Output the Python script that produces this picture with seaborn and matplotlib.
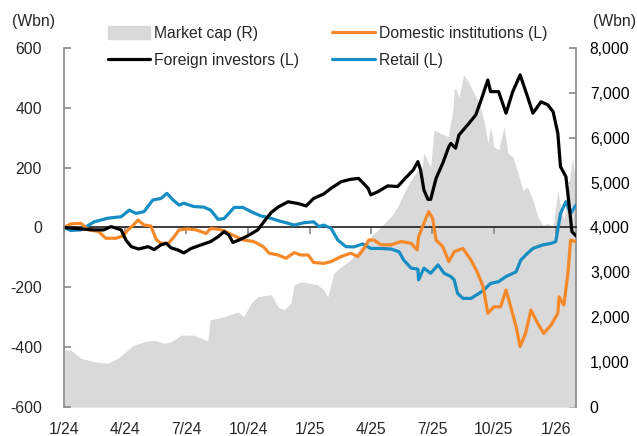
import pandas as pd
import numpy as np
import matplotlib.pyplot as plt
import seaborn as sns
from matplotlib.lines import Line2D
from matplotlib.patches import Patch
from matplotlib.ticker import FuncFormatter

# cumulative net buying (Wbn, left axis)
foreign_dates = ['2024-01-01', '2024-01-26', '2024-02-15', '2024-02-29', '2024-03-11', '2024-03-26', '2024-04-02',
                 '2024-04-10', '2024-04-21', '2024-05-05', '2024-05-14', '2024-05-24', '2024-06-01', '2024-06-08',
                 '2024-06-18', '2024-06-27', '2024-07-08', '2024-07-23', '2024-08-06', '2024-08-17', '2024-08-26',
                 '2024-09-02', '2024-09-08', '2024-09-17', '2024-09-30', '2024-10-15', '2024-10-24', '2024-11-04',
                 '2024-11-14', '2024-11-29', '2024-12-14', '2024-12-26', '2025-01-06', '2025-01-21', '2025-02-01',
                 '2025-02-16', '2025-03-02', '2025-03-14', '2025-03-28', '2025-04-01', '2025-04-12', '2025-04-26',
                 '2025-05-11', '2025-05-20', '2025-06-03', '2025-06-10', '2025-06-14', '2025-06-19', '2025-06-25',
                 '2025-06-29', '2025-07-07', '2025-07-17', '2025-07-26', '2025-07-29', '2025-08-05', '2025-08-10',
                 '2025-08-23', '2025-09-04', '2025-09-12', '2025-09-22', '2025-09-26', '2025-10-08', '2025-10-19',
                 '2025-10-29', '2025-11-09', '2025-11-20', '2025-11-28', '2025-12-10', '2025-12-20', '2025-12-28',
                 '2026-01-04', '2026-01-08', '2026-01-16', '2026-01-20', '2026-01-25', '2026-01-31']
foreign_vals = [0, -5, -8, -8, 3, -8, -42,
                -64, -72, -64, -74, -58, -53, -68,
                -75, -85, -70, -58, -47, -31, -14,
                -25, -50, -42, -28, -8, 19, 50,
                68, 86, 80, 72, 97, 112, 131,
                153, 161, 164, 131, 109, 120, 139,
                137, 159, 192, 220, 192, 125, 94,
                94, 164, 215, 270, 281, 265, 309,
                343, 376, 426, 493, 454, 454, 382,
                454, 510, 437, 382, 420, 410, 387,
                315, 203, 170, 92, -14, -28]

domestic_dates = ['2024-01-01', '2024-01-11', '2024-01-26', '2024-02-06', '2024-02-21', '2024-03-03', '2024-03-18',
                  '2024-03-29', '2024-04-05', '2024-04-13', '2024-04-20', '2024-04-29', '2024-05-09', '2024-05-17',
                  '2024-05-24', '2024-06-04', '2024-06-12', '2024-06-20', '2024-07-03', '2024-07-15', '2024-07-23',
                  '2024-07-30', '2024-08-06', '2024-08-17', '2024-08-26', '2024-09-10', '2024-09-24', '2024-10-09',
                  '2024-10-23', '2024-11-01', '2024-11-14', '2024-11-26', '2024-12-08', '2024-12-18', '2024-12-29',
                  '2025-01-06', '2025-01-21', '2025-02-01', '2025-02-16', '2025-03-02', '2025-03-13', '2025-03-22',
                  '2025-03-29', '2025-04-06', '2025-04-16', '2025-05-01', '2025-05-16', '2025-05-31', '2025-06-09',
                  '2025-06-11', '2025-06-19', '2025-06-26', '2025-07-02', '2025-07-07', '2025-07-17', '2025-07-26',
                  '2025-08-03', '2025-08-16', '2025-08-28', '2025-09-07', '2025-09-15', '2025-09-22', '2025-10-01',
                  '2025-10-11', '2025-10-19', '2025-10-26', '2025-11-03', '2025-11-09', '2025-11-17', '2025-11-25',
                  '2025-12-05', '2025-12-14', '2025-12-25', '2026-01-04', '2026-01-06', '2026-01-13', '2026-01-19',
                  '2026-01-23', '2026-01-31']
domestic_vals = [0, 12, 14, -8, -13, -36, -36,
                 -28, -8, 8, 25, 8, 5, -40,
                 -53, -53, -33, -8, -5, -8, -14,
                 -20, -3, -6, -11, -28, -42, -47,
                 -64, -86, -92, -103, -84, -92, -92,
                 -117, -120, -114, -97, -86, -97, -70,
                 -42, -42, -58, -58, -47, -53, -75,
                 -31, 14, 53, 30, -42, -64, -114,
                 -81, -70, -109, -153, -198, -287, -265,
                 -265, -209, -265, -332, -398, -354, -276,
                 -320, -354, -326, -287, -232, -259, -153,
                 -42, -47]

retail_dates = ['2024-01-01', '2024-01-11', '2024-01-26', '2024-02-15', '2024-03-06', '2024-03-26', '2024-04-07',
                '2024-04-17', '2024-04-29', '2024-05-12', '2024-05-24', '2024-06-02', '2024-06-11', '2024-06-20',
                '2024-06-27', '2024-07-12', '2024-07-27', '2024-08-06', '2024-08-17', '2024-08-26', '2024-09-10',
                '2024-09-23', '2024-10-05', '2024-10-20', '2024-10-30', '2024-11-14', '2024-11-29', '2024-12-08',
                '2024-12-23', '2025-01-06', '2025-01-14', '2025-01-21', '2025-02-01', '2025-02-11', '2025-02-23',
                '2025-03-07', '2025-03-20', '2025-04-01', '2025-04-16', '2025-05-01', '2025-05-13', '2025-05-20',
                '2025-05-31', '2025-06-10', '2025-06-11', '2025-06-19', '2025-06-29', '2025-07-10', '2025-07-19',
                '2025-07-29', '2025-08-03', '2025-08-08', '2025-08-16', '2025-08-28', '2025-09-09', '2025-09-16',
                '2025-09-26', '2025-10-08', '2025-10-19', '2025-11-03', '2025-11-10', '2025-11-20', '2025-11-28',
                '2025-12-13', '2025-12-25', '2026-01-01', '2026-01-08', '2026-01-16', '2026-01-23', '2026-01-31']
retail_vals = [0, -10, -8, 19, 31, 36, 58,
               47, 53, 92, 97, 114, 92, 75,
               81, 70, 68, 58, 27, 30, 67,
               67, 53, 38, 34, 23, 14, 8,
               16, 19, 3, 8, -3, -42, -64,
               -65, -55, -70, -70, -72, -81, -109,
               -136, -139, -175, -136, -153, -125, -153,
               -164, -175, -220, -237, -237, -220, -209,
               -187, -181, -164, -148, -109, -86, -70,
               -58, -53, -47, 47, 86, 47, 75]

# market cap (Wbn, right axis)
mcap_dates = ['2024-01-01', '2024-01-11', '2024-01-26', '2024-02-15', '2024-03-06', '2024-03-21', '2024-04-05',
              '2024-04-14', '2024-04-29', '2024-05-14', '2024-05-29', '2024-06-08', '2024-06-23', '2024-07-12',
              '2024-07-27', '2024-08-02', '2024-08-05', '2024-08-26', '2024-09-16', '2024-09-24', '2024-10-05',
              '2024-10-15', '2024-11-04', '2024-11-14', '2024-11-23', '2024-12-03', '2024-12-08', '2024-12-18',
              '2025-01-02', '2025-01-12', '2025-01-21', '2025-01-27', '2025-02-05', '2025-02-16', '2025-03-02',
              '2025-03-17', '2025-04-01', '2025-04-16', '2025-05-01', '2025-05-11', '2025-05-20', '2025-05-31',
              '2025-06-10', '2025-06-14', '2025-06-19', '2025-06-29', '2025-07-04', '2025-07-14', '2025-07-25',
              '2025-08-01', '2025-08-03', '2025-08-05', '2025-08-10', '2025-08-17', '2025-08-25', '2025-09-01',
              '2025-09-09', '2025-09-16', '2025-09-22', '2025-09-26', '2025-10-01', '2025-10-08', '2025-10-16',
              '2025-10-22', '2025-10-29', '2025-11-06', '2025-11-13', '2025-11-20', '2025-11-28', '2025-12-05',
              '2025-12-13', '2025-12-20', '2025-12-28', '2026-01-04', '2026-01-08', '2026-01-13', '2026-01-20',
              '2026-01-26', '2026-01-31']
mcap_vals = [1270, 1270, 1085, 1010, 974, 1085, 1270,
             1380, 1455, 1490, 1420, 1455, 1600, 1600,
             1500, 1480, 1940, 2010, 2120, 2010, 2310,
             2460, 2500, 2235, 2160, 2310, 2720, 2790,
             2750, 2720, 2610, 2450, 2980, 3125, 3275,
             3570, 3795, 4017, 4240, 4463, 4760, 5058,
             5280, 5130, 5652, 5355, 6172, 6098, 6024,
             6617, 7063, 7100, 6900, 7400, 7220, 7000,
             6770, 6400, 5880, 6240, 5800, 5730, 6240,
             5650, 5580, 5210, 4830, 4900, 4610, 4240,
             4050, 4090, 4010, 4830, 4460, 4170, 4900,
             5550, 4900]

tick_dates = ['2024-01-01', '2024-04-01', '2024-07-01', '2024-10-01', '2025-01-01',
              '2025-04-01', '2025-07-01', '2025-10-01', '2026-01-01']
tick_labels = ['1/24', '4/24', '7/24', '10/24', '1/25', '4/25', '7/25', '10/25', '1/26']

c_foreign = '#000000'
c_domestic = '#F5892A'
c_retail = '#168DC3'
c_mcap = '#D9D9D9'
c_axis = '#8C8C8C'

sns.set_theme(style="white")
plt.rcParams['font.family'] = ['Liberation Sans', 'DejaVu Sans']
plt.rcParams['axes.unicode_minus'] = False
fs = 11.3

lines = pd.concat([
    pd.DataFrame({'date': pd.to_datetime(foreign_dates), 'value': foreign_vals, 'who': 'Foreign investors (L)'}),
    pd.DataFrame({'date': pd.to_datetime(domestic_dates), 'value': domestic_vals, 'who': 'Domestic institutions (L)'}),
    pd.DataFrame({'date': pd.to_datetime(retail_dates), 'value': retail_vals, 'who': 'Retail (L)'}),
])
mcap = pd.DataFrame({'date': pd.to_datetime(mcap_dates), 'value': mcap_vals})
palette = {'Foreign investors (L)': c_foreign, 'Domestic institutions (L)': c_domestic, 'Retail (L)': c_retail}

fig = plt.figure(figsize=(6.37, 4.36), dpi=100)
ax = fig.add_axes([0.1005, 0.0665, 0.8037, 0.8235])
axr = ax.twinx()
ax.set_zorder(axr.get_zorder() + 1)
ax.patch.set_visible(False)

# market cap area on the right axis
axr.fill_between(mcap['date'], mcap['value'], 0, color=c_mcap, lw=0)
axr.set_ylim(0, 8000)
axr.set_yticks(range(0, 8001, 1000))
axr.yaxis.set_major_formatter(FuncFormatter(lambda v, p: f'{int(v):,}'))
axr.tick_params(axis='y', direction='in', length=5, color=c_axis, pad=10, labelsize=fs, labelcolor='black')
for s in ['top', 'bottom', 'left']:
    axr.spines[s].set_visible(False)
axr.spines['right'].set_color(c_axis)
axr.grid(False)

# investor lines (order: retail, domestic, foreign on top)
for who in ['Retail (L)', 'Domestic institutions (L)', 'Foreign investors (L)']:
    sns.lineplot(data=lines[lines['who'] == who], x='date', y='value', color=palette[who],
                 lw=2.3, ax=ax, legend=False, sort=True)

ax.set_ylim(-600, 600)
ax.set_yticks(range(-600, 601, 200))
ax.set_xlim(pd.Timestamp('2024-01-01'), pd.Timestamp('2026-01-31'))
ax.set_xticks(pd.to_datetime(tick_dates))
ax.set_xticklabels(tick_labels)
ax.tick_params(axis='y', direction='in', length=5, color=c_axis, pad=16, labelsize=fs)
ax.tick_params(axis='x', length=0, pad=11, labelsize=fs)
ax.set_xlabel('')
ax.set_ylabel('')
for s in ['top', 'bottom', 'right']:
    ax.spines[s].set_visible(False)
ax.spines['left'].set_color(c_axis)
ax.grid(False)

# zero line with quarterly ticks
zero_ax = ax.secondary_xaxis(0.5)
zero_ax.set_xticks(pd.to_datetime(tick_dates), labels=[''] * len(tick_dates))
zero_ax.tick_params(axis='x', direction='in', length=5, color=c_axis)
zero_ax.spines['bottom'].set_color(c_axis)
zero_ax.spines['bottom'].set_linewidth(1.2)

fig.text(0.053, 0.95, '(Wbn)', ha='center', va='center', fontsize=fs)
fig.text(0.964, 0.95, '(Wbn)', ha='center', va='center', fontsize=fs)

handles = [Patch(color=c_mcap, label='Market cap (R)'),
           Line2D([], [], color=c_foreign, lw=2.3, label='Foreign investors (L)'),
           Line2D([], [], color=c_domestic, lw=2.3, label='Domestic institutions (L)'),
           Line2D([], [], color=c_retail, lw=2.3, label='Retail (L)')]
fig.legend(handles=handles, ncol=2, loc='center', bbox_to_anchor=(0.514, 0.892), frameon=False,
           fontsize=fs, handlelength=2.7, handleheight=0.9, handletextpad=0.25, columnspacing=2.1,
           labelspacing=0.75)

plt.savefig('out.png', dpi=100)
